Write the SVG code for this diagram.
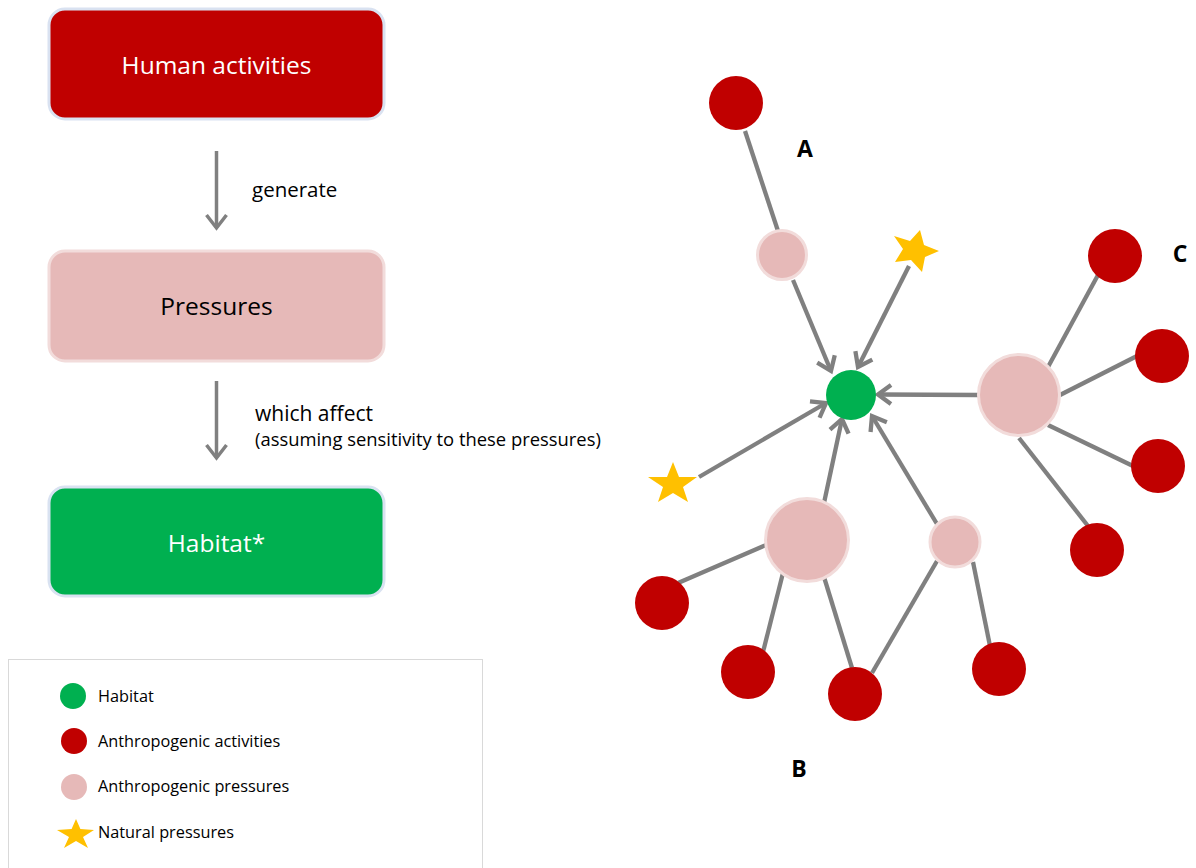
<svg xmlns="http://www.w3.org/2000/svg" width="1196" height="868" viewBox="0 0 1196 868">
<defs>
<style>
.box{stroke-width:3}
.bt{font-family:"Open Sans","Noto Sans",sans-serif;font-size:24.5px;text-anchor:middle}
.lbl{font-family:"Open Sans","Noto Sans",sans-serif;fill:#000}
.leg{font-family:"Open Sans","Noto Sans",sans-serif;font-size:16.3px;fill:#000}
.big{font-family:"Open Sans","Noto Sans",sans-serif;font-size:23px;font-weight:bold;text-anchor:middle;fill:#000}
.edge{stroke:#808080;stroke-width:4.3;fill:none}
.flow{stroke:#808080;stroke-width:3.5;fill:none}
.red{fill:#c00000}
.pink{fill:#e6b9b8;stroke:#f2dcdb;stroke-width:3}
.green{fill:#00b050}
.star{fill:#ffc000}
</style>
<marker id="arr" markerUnits="userSpaceOnUse" markerWidth="30" markerHeight="30" viewBox="-20 -15 30 30" refX="0" refY="0" orient="auto" overflow="visible">
<path d="M-13,-9.5 L0,0 L-13,9.5" fill="none" stroke="#808080" stroke-width="4.3"/>
</marker>
<marker id="arr2" markerUnits="userSpaceOnUse" markerWidth="30" markerHeight="30" viewBox="-20 -15 30 30" refX="0" refY="0" orient="auto" overflow="visible">
<path d="M-13,-10 L0,0 L-13,10" fill="none" stroke="#808080" stroke-width="3.5"/>
</marker>
</defs>
<rect width="1196" height="868" fill="#fff"/>

<g id="flow-human">
<rect class="box" x="49" y="9" width="335" height="110" rx="16" fill="#c00000" stroke="#d9e2f1"/>
<text class="bt" x="216.5" y="74" fill="#fff">Human activities</text>
</g>
<g id="flow-pressures">
<rect class="box" x="49" y="251" width="335" height="110" rx="16" fill="#e6b9b8" stroke="#f2dcdb"/>
<text class="bt" x="216.5" y="315" fill="#000">Pressures</text>
</g>
<g id="flow-habitat">
<rect class="box" x="49" y="487" width="335" height="109" rx="16" fill="#00b050" stroke="#d9e2f1"/>
<text class="bt" x="216.5" y="552" fill="#fff">Habitat*</text>
</g>
<g id="flow-connectors">
<line class="flow" x1="216.5" y1="151" x2="216.5" y2="228" marker-end="url(#arr2)"/>
<text class="lbl" x="252" y="197" font-size="20.5">generate</text>
<line class="flow" x1="216.5" y1="381" x2="216.5" y2="458" marker-end="url(#arr2)"/>
<text class="lbl" x="255" y="421" font-size="21">which affect</text>
<text class="lbl" x="255" y="446" font-size="18.4">(assuming sensitivity to these pressures)</text>
</g>

<g id="legend">
<rect x="8.5" y="659.5" width="474" height="220" fill="#fff" stroke="#d9d9d9" stroke-width="1"/>
<circle class="green" cx="73" cy="696" r="13"/>
<text class="leg" x="98" y="702">Habitat</text>
<circle class="red" cx="74" cy="741" r="13"/>
<text class="leg" x="98" y="747">Anthropogenic activities</text>
<circle cx="74" cy="787" r="13" fill="#e6b9b8"/>
<text class="leg" x="98" y="792">Anthropogenic pressures</text>
<polygon class="star" points="76,819 80.4,829 94,830 83,837 88,848 76,841 64,848 69,837 57,830 71.6,829"/>
<text class="leg" x="98" y="838">Natural pressures</text>
</g>

<g id="connectors">
<line class="edge" x1="745" y1="131" x2="778" y2="231"/>
<line class="edge" x1="793" y1="280" x2="831" y2="371" marker-end="url(#arr)"/>
<line class="edge" x1="909" y1="266" x2="858" y2="367" marker-end="url(#arr)"/>
<line class="edge" x1="978" y1="395" x2="878" y2="394.5" marker-end="url(#arr)"/>
<line class="edge" x1="699" y1="477" x2="826" y2="403" marker-end="url(#arr)"/>
<line class="edge" x1="824" y1="503" x2="842" y2="419" marker-end="url(#arr)"/>
<line class="edge" x1="937" y1="524" x2="872" y2="416" marker-end="url(#arr)"/>
<line class="edge" x1="1048" y1="367" x2="1098" y2="275"/>
<line class="edge" x1="1060" y1="395" x2="1137" y2="356"/>
<line class="edge" x1="1048" y1="425" x2="1133" y2="466"/>
<line class="edge" x1="1019" y1="438" x2="1088" y2="526"/>
<line class="edge" x1="766" y1="545" x2="678" y2="583"/>
<line class="edge" x1="783" y1="573" x2="763" y2="652"/>
<line class="edge" x1="824" y1="577" x2="852" y2="668"/>
<line class="edge" x1="937" y1="561" x2="872" y2="673"/>
<line class="edge" x1="973" y1="562" x2="990" y2="646"/>
</g>

<g id="habitat"><circle class="green" cx="851" cy="395" r="25"/></g>
<g id="activity-a"><circle class="red" cx="736" cy="103" r="27"/></g>
<g id="pressure-a"><circle class="pink" cx="782" cy="255" r="24.5"/></g>
<g id="natural-top"><polygon class="star" points="920,230 924,245 939,251 925,257 922,272 911,260 895,262 903,249 894,236 910,241"/></g>
<g id="pressure-c"><circle class="pink" cx="1019" cy="395" r="40.5"/></g>
<g id="activity-c1"><circle class="red" cx="1115" cy="256" r="27"/></g>
<g id="activity-c2"><circle class="red" cx="1162" cy="356" r="27"/></g>
<g id="activity-c3"><circle class="red" cx="1158" cy="466" r="27"/></g>
<g id="activity-c4"><circle class="red" cx="1097" cy="550" r="27"/></g>
<g id="natural-left"><polygon class="star" points="673,462 679,477 697,477 683,487 688,502 673,493 658,502 663,487 648,477 667,477"/></g>
<g id="pressure-b"><circle class="pink" cx="807" cy="540" r="41.5"/></g>
<g id="pressure-b2"><circle class="pink" cx="955" cy="542" r="25"/></g>
<g id="activity-b1"><circle class="red" cx="662" cy="603" r="27"/></g>
<g id="activity-b2"><circle class="red" cx="748" cy="672" r="27"/></g>
<g id="activity-b3"><circle class="red" cx="855" cy="694" r="27"/></g>
<g id="activity-b4"><circle class="red" cx="999" cy="669" r="27"/></g>

<g id="labels">
<text class="big" x="805" y="157">A</text>
<text class="big" x="1180" y="262">C</text>
<text class="big" x="799" y="777">B</text>
</g>
</svg>
